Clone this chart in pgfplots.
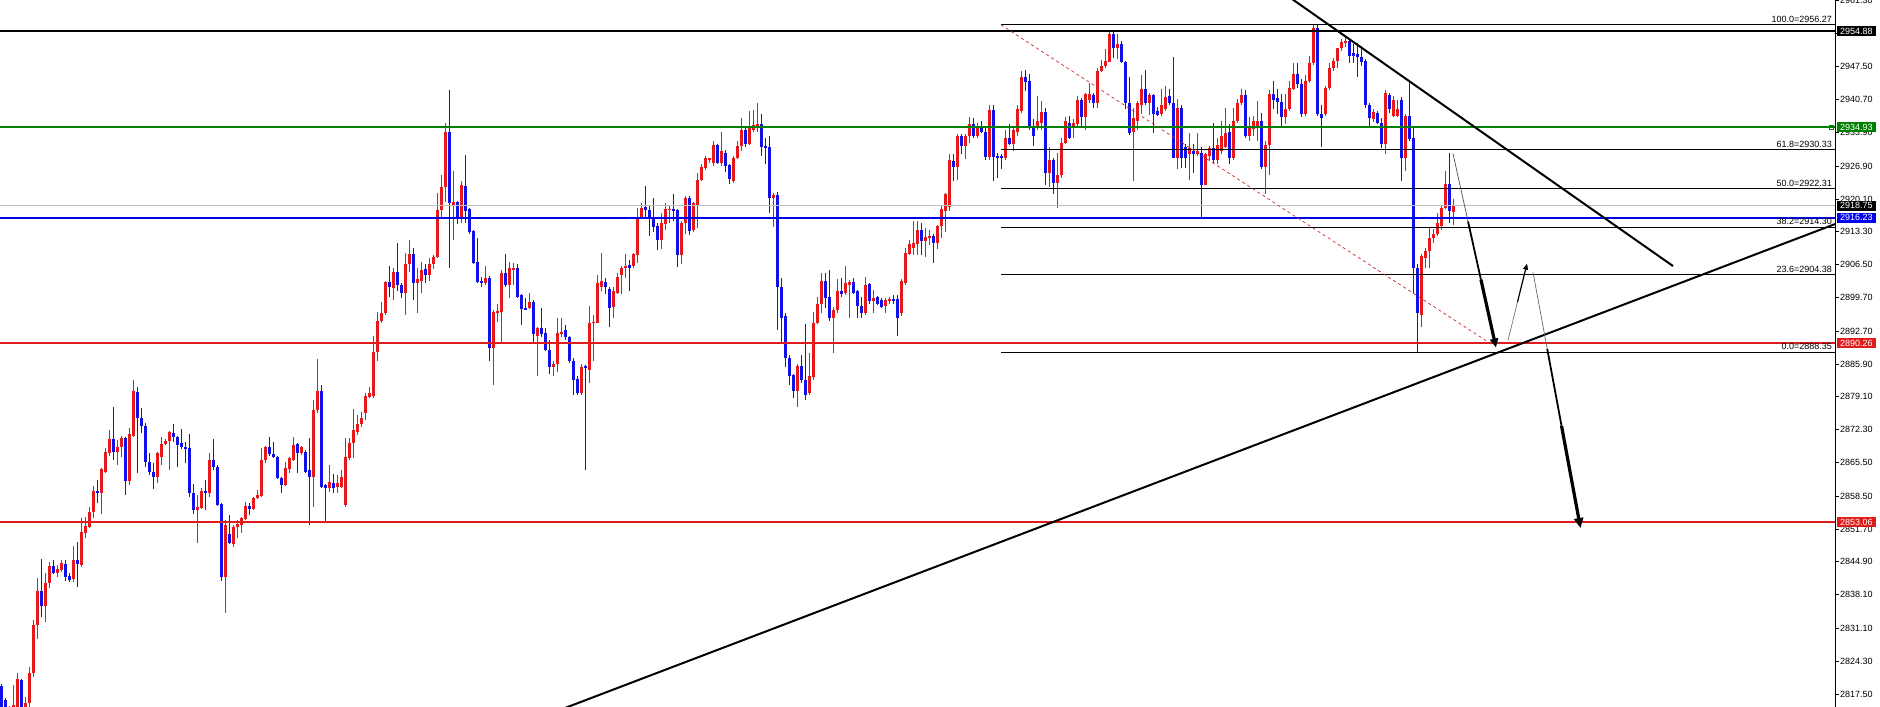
\documentclass[border=0pt]{standalone}
\usepackage{pgfplots}
\pgfplotsset{compat=1.18}
\usepackage{pgfplotstable}
\usepackage{fontspec}
\setmainfont{Liberation Sans}
\usetikzlibrary{arrows.meta}
\definecolor{bull}{RGB}{232,24,24}
\definecolor{bear}{RGB}{16,16,232}
\definecolor{lvlred}{RGB}{222,28,28}
\definecolor{lvlgreen}{RGB}{0,128,0}
\definecolor{lvlblue}{RGB}{0,0,240}
\definecolor{bidgray}{RGB}{192,192,192}
\definecolor{fibred}{RGB}{200,40,40}
\newcommand{\tf}{\fontsize{9}{10}\selectfont}

\pgfplotstableread{
t o h l c
0 2819.2 2819.6 2813.2 2813.8
1 2816.2 2816.6 2813.8 2814.2
2 2813.8 2815.0 2813.0 2814.5
3 2814.5 2819.4 2813.8 2815.2
4 2814.3 2821.8 2813.8 2820.6
5 2820.4 2820.6 2813.8 2814.5
6 2814.5 2816.8 2813.8 2815.6
7 2815.6 2823.1 2814.5 2821.8
8 2821.8 2832.8 2821.0 2831.8
9 2831.8 2841.5 2828.9 2838.8
10 2838.8 2845.4 2833.4 2835.7
11 2835.7 2842.6 2832.4 2840.5
12 2840.5 2844.8 2839.4 2844.0
13 2844.0 2845.2 2842.3 2842.6
14 2842.6 2844.2 2841.7 2843.4
15 2843.2 2845.2 2842.8 2844.6
16 2844.4 2845.2 2840.9 2841.7
17 2841.9 2842.6 2840.7 2841.1
18 2841.3 2848.1 2840.7 2845.2
19 2845.2 2848.9 2839.6 2844.4
20 2844.2 2853.9 2843.8 2851.0
21 2850.8 2854.1 2849.8 2852.3
22 2852.1 2856.2 2851.9 2855.2
23 2855.2 2860.6 2853.9 2859.5
24 2859.5 2861.8 2857.0 2859.1
25 2859.1 2864.3 2854.9 2864.1
26 2863.5 2868.4 2863.3 2867.6
27 2867.4 2872.2 2866.8 2870.3
28 2870.3 2876.9 2865.9 2867.6
29 2867.6 2870.1 2864.9 2868.6
30 2868.6 2870.9 2866.6 2870.5
31 2870.5 2870.7 2858.7 2861.6
32 2861.6 2872.6 2860.8 2871.3
33 2870.9 2882.5 2870.7 2880.2
34 2880.0 2881.1 2863.3 2874.8
35 2874.8 2876.7 2871.5 2873.0
36 2873.0 2873.6 2864.5 2865.5
37 2865.5 2867.4 2862.8 2863.5
38 2863.5 2865.3 2859.9 2862.4
39 2862.4 2867.6 2861.2 2867.4
40 2866.6 2870.7 2864.9 2869.3
41 2869.3 2870.3 2869.1 2869.9
42 2869.9 2872.0 2863.9 2871.7
43 2871.5 2873.4 2869.7 2870.7
44 2870.7 2870.9 2864.5 2869.1
45 2869.5 2872.4 2868.2 2868.6
46 2868.6 2869.7 2865.3 2868.2
47 2868.4 2871.3 2858.3 2859.1
48 2859.1 2861.0 2854.9 2855.6
49 2855.6 2858.7 2848.7 2856.2
50 2856.0 2860.1 2855.8 2859.5
51 2859.5 2861.8 2855.6 2859.1
52 2859.1 2867.4 2858.3 2865.9
53 2865.9 2870.3 2863.9 2864.5
54 2864.5 2864.9 2856.4 2856.6
55 2856.8 2857.0 2840.9 2841.7
56 2841.7 2853.5 2834.2 2852.5
57 2850.6 2854.5 2848.5 2848.7
58 2848.5 2852.5 2847.9 2852.1
59 2852.1 2853.5 2849.8 2852.7
60 2852.5 2854.1 2850.8 2853.9
61 2853.7 2857.2 2853.5 2856.4
62 2856.4 2857.0 2854.7 2855.8
63 2855.8 2858.3 2855.6 2858.1
64 2858.1 2859.7 2857.9 2858.7
65 2858.5 2868.4 2858.3 2866.1
66 2866.1 2869.0 2865.3 2868.6
67 2868.6 2870.7 2866.8 2867.2
68 2867.2 2869.7 2866.4 2866.6
69 2866.6 2866.8 2862.0 2862.2
70 2862.2 2862.4 2859.1 2860.8
71 2860.8 2865.5 2860.6 2864.3
72 2864.1 2866.6 2863.3 2866.4
73 2866.1 2870.7 2865.7 2869.1
74 2869.3 2869.5 2863.3 2867.4
75 2867.4 2869.0 2867.0 2868.6
76 2867.6 2868.0 2863.3 2863.5
77 2863.9 2870.5 2852.5 2862.4
78 2862.4 2878.4 2856.2 2876.3
79 2876.3 2886.9 2875.7 2880.4
80 2880.4 2881.5 2860.1 2860.3
81 2860.8 2861.0 2853.1 2860.1
82 2860.1 2864.9 2859.3 2861.4
83 2861.2 2863.2 2859.1 2860.1
84 2860.3 2862.8 2859.1 2861.2
85 2860.3 2863.9 2860.1 2862.4
86 2856.6 2870.5 2856.2 2866.6
87 2866.4 2870.5 2865.9 2869.5
88 2869.5 2876.5 2866.4 2872.2
89 2871.7 2875.3 2871.1 2873.4
90 2873.4 2875.9 2872.8 2874.8
91 2875.7 2879.8 2874.2 2879.2
92 2879.0 2881.1 2878.8 2879.8
93 2879.2 2891.8 2878.8 2888.3
94 2888.3 2896.6 2886.6 2894.9
95 2894.9 2898.7 2894.5 2896.4
96 2896.4 2903.2 2896.0 2902.8
97 2902.8 2906.3 2899.7 2901.8
98 2901.6 2905.7 2899.1 2904.9
99 2904.9 2910.9 2901.1 2902.2
100 2902.2 2902.6 2899.5 2900.7
101 2900.7 2909.0 2896.0 2906.7
102 2906.7 2911.7 2904.9 2908.6
103 2908.6 2910.0 2899.1 2902.6
104 2902.6 2905.7 2896.4 2903.6
105 2903.2 2907.1 2900.7 2905.3
106 2905.5 2906.7 2902.6 2904.3
107 2904.3 2907.8 2903.2 2906.7
108 2906.7 2908.4 2905.5 2908.0
109 2908.0 2921.4 2907.8 2917.9
110 2917.9 2925.0 2916.3 2922.5
111 2922.5 2935.9 2919.4 2933.9
112 2933.9 2942.6 2905.7 2919.2
113 2918.7 2925.8 2911.5 2919.4
114 2919.4 2919.6 2915.0 2916.3
115 2916.3 2923.9 2915.2 2922.9
116 2922.7 2929.3 2915.2 2917.7
117 2918.1 2918.3 2912.9 2913.2
118 2913.4 2913.6 2906.7 2906.9
119 2907.1 2912.1 2902.6 2902.8
120 2903.2 2904.0 2901.8 2902.6
121 2902.6 2906.3 2902.2 2903.8
122 2903.8 2904.2 2886.6 2889.3
123 2889.3 2897.0 2881.5 2896.6
124 2896.6 2898.4 2894.5 2896.8
125 2896.6 2905.3 2890.4 2904.7
126 2904.7 2908.8 2901.8 2902.2
127 2902.2 2907.1 2899.5 2905.7
128 2905.5 2906.9 2902.2 2905.7
129 2905.7 2906.7 2899.5 2899.7
130 2900.1 2900.5 2893.9 2897.2
131 2897.4 2899.5 2897.0 2897.2
132 2897.6 2900.7 2897.4 2898.7
133 2898.7 2899.1 2890.2 2892.2
134 2891.8 2893.5 2883.5 2893.3
135 2893.3 2897.6 2891.4 2892.2
136 2892.4 2893.3 2888.5 2888.7
137 2888.9 2890.8 2883.9 2885.2
138 2885.2 2886.6 2883.5 2886.0
139 2886.0 2895.5 2884.2 2892.4
140 2892.2 2895.5 2891.4 2892.6
141 2892.9 2893.9 2890.8 2891.4
142 2891.4 2891.6 2886.2 2886.6
143 2886.6 2887.1 2879.4 2882.5
144 2882.7 2883.5 2879.4 2879.8
145 2879.8 2886.0 2879.4 2885.2
146 2885.4 2885.6 2863.9 2885.0
147 2884.6 2898.0 2881.9 2894.3
148 2894.3 2896.0 2886.6 2894.7
149 2894.5 2904.4 2894.3 2902.6
150 2901.8 2909.0 2901.1 2903.0
151 2902.8 2903.8 2900.5 2901.8
152 2901.4 2901.8 2893.5 2897.6
153 2897.8 2901.8 2895.5 2901.1
154 2900.7 2904.7 2900.5 2904.0
155 2904.3 2906.3 2900.5 2905.9
156 2905.7 2908.8 2903.8 2906.3
157 2906.5 2907.4 2901.1 2905.9
158 2906.3 2909.0 2905.9 2908.8
159 2908.4 2918.3 2906.9 2916.3
160 2916.3 2919.2 2916.1 2918.3
161 2918.5 2922.7 2916.3 2917.9
162 2917.9 2918.7 2912.5 2916.1
163 2916.3 2920.4 2913.2 2914.2
164 2914.4 2915.2 2909.6 2911.7
165 2911.7 2917.1 2909.8 2915.2
166 2915.0 2919.2 2913.6 2918.1
167 2917.9 2918.7 2915.2 2918.1
168 2918.1 2921.2 2915.6 2917.7
169 2917.9 2918.1 2905.9 2908.4
170 2908.4 2915.6 2906.7 2915.2
171 2915.2 2920.8 2912.9 2920.4
172 2920.4 2920.8 2912.7 2913.4
173 2913.6 2919.4 2913.2 2919.2
174 2918.7 2925.4 2914.0 2924.1
175 2924.1 2927.4 2923.9 2926.8
176 2926.6 2929.1 2926.2 2928.7
177 2928.3 2928.7 2927.6 2928.5
178 2927.6 2932.2 2927.0 2931.2
179 2931.2 2931.4 2927.4 2927.6
180 2927.6 2933.9 2927.0 2930.1
181 2929.7 2930.3 2925.6 2927.0
182 2927.2 2927.4 2923.3 2924.3
183 2923.9 2929.1 2923.5 2928.5
184 2928.5 2932.2 2928.3 2931.0
185 2931.0 2936.8 2930.1 2934.3
186 2934.3 2934.9 2930.8 2931.6
187 2931.6 2938.4 2931.2 2934.9
188 2934.3 2938.6 2933.9 2935.5
189 2934.9 2939.9 2933.9 2935.7
190 2935.7 2937.8 2929.1 2930.8
191 2931.0 2932.8 2927.4 2930.6
192 2930.8 2933.2 2917.3 2920.4
193 2920.4 2921.4 2914.2 2921.0
194 2921.0 2921.6 2892.9 2901.8
195 2901.8 2903.8 2890.2 2895.5
196 2895.9 2896.4 2885.2 2887.1
197 2887.1 2887.7 2881.5 2883.5
198 2883.7 2883.9 2878.8 2880.4
199 2880.4 2886.0 2876.9 2885.4
200 2885.4 2887.7 2881.9 2882.5
201 2882.5 2894.1 2878.4 2879.4
202 2879.8 2888.1 2879.4 2883.5
203 2883.1 2896.6 2882.5 2894.3
204 2894.3 2899.7 2894.1 2898.4
205 2898.4 2904.7 2896.4 2903.2
206 2903.2 2904.7 2897.6 2899.5
207 2899.7 2905.3 2894.9 2895.5
208 2895.5 2897.8 2888.1 2897.0
209 2897.0 2903.6 2896.4 2901.1
210 2901.1 2903.8 2899.7 2900.5
211 2900.7 2906.3 2900.1 2902.6
212 2902.2 2903.4 2895.5 2902.8
213 2902.8 2903.8 2900.5 2900.7
214 2901.1 2901.3 2895.5 2898.0
215 2898.0 2899.7 2895.5 2896.4
216 2896.4 2904.0 2896.0 2902.2
217 2902.4 2902.6 2898.4 2898.9
218 2898.9 2901.3 2896.4 2899.5
219 2899.7 2899.9 2898.2 2898.4
220 2899.1 2899.5 2897.6 2897.8
221 2898.0 2899.5 2896.4 2899.1
222 2898.9 2899.7 2898.4 2899.3
223 2899.3 2900.1 2898.4 2898.9
224 2899.3 2900.1 2891.8 2895.5
225 2896.4 2903.6 2895.8 2903.2
226 2902.6 2910.0 2902.2 2909.0
227 2908.8 2911.5 2908.4 2910.7
228 2910.0 2915.6 2908.4 2910.9
229 2910.7 2915.6 2908.4 2913.6
230 2913.6 2915.2 2908.4 2911.3
231 2911.3 2914.0 2908.0 2912.3
232 2912.1 2913.6 2910.5 2912.5
233 2912.5 2912.9 2906.9 2910.9
234 2910.9 2914.8 2909.8 2914.4
235 2914.4 2918.7 2912.1 2918.1
236 2917.7 2921.4 2913.2 2921.2
237 2918.5 2929.5 2917.7 2928.1
238 2927.9 2929.5 2923.9 2926.8
239 2926.8 2933.6 2924.1 2933.2
240 2933.2 2933.6 2929.5 2931.0
241 2931.0 2933.6 2928.3 2933.2
242 2933.2 2937.0 2931.8 2935.7
243 2935.7 2936.8 2932.8 2933.2
244 2933.2 2935.9 2932.8 2934.9
245 2934.9 2936.3 2933.7 2933.9
246 2933.9 2935.1 2928.1 2928.9
247 2928.9 2939.5 2928.1 2938.6
248 2938.6 2939.5 2923.9 2928.9
249 2929.1 2929.7 2924.5 2928.7
250 2929.1 2929.5 2926.4 2928.7
251 2928.7 2934.3 2928.1 2932.8
252 2932.8 2935.7 2931.2 2931.6
253 2931.6 2935.1 2930.1 2934.3
254 2933.9 2939.5 2933.2 2938.8
255 2938.4 2946.7 2938.0 2945.3
256 2945.3 2946.9 2942.4 2944.4
257 2944.6 2946.1 2934.5 2935.1
258 2935.1 2936.6 2931.0 2933.2
259 2934.9 2941.5 2934.3 2936.3
260 2935.9 2940.5 2934.3 2938.2
261 2938.2 2939.0 2922.9 2925.4
262 2925.4 2930.8 2922.5 2928.1
263 2928.1 2928.5 2921.2 2923.5
264 2923.5 2929.7 2918.3 2925.0
265 2925.0 2932.8 2924.5 2931.8
266 2931.8 2937.0 2931.6 2936.3
267 2935.9 2937.4 2932.6 2932.8
268 2934.9 2936.6 2932.8 2935.9
269 2935.7 2941.5 2935.3 2940.7
270 2940.7 2941.1 2934.9 2937.0
271 2937.0 2942.1 2934.3 2941.9
272 2940.7 2944.2 2940.1 2941.9
273 2941.7 2942.1 2939.0 2940.1
274 2939.9 2947.3 2939.0 2946.7
275 2946.7 2949.0 2946.5 2947.7
276 2947.7 2951.1 2947.3 2948.8
277 2948.6 2955.0 2948.4 2954.4
278 2954.4 2955.0 2949.4 2951.3
279 2951.3 2954.4 2949.2 2952.3
280 2952.3 2952.9 2948.2 2948.6
281 2948.6 2948.8 2938.8 2939.9
282 2939.9 2945.3 2933.4 2933.7
283 2933.9 2939.0 2923.9 2936.8
284 2936.3 2940.5 2934.3 2939.9
285 2939.5 2945.7 2937.8 2943.0
286 2943.0 2946.9 2939.5 2940.1
287 2940.1 2942.1 2937.6 2941.7
288 2941.7 2941.9 2933.7 2937.8
289 2938.4 2939.2 2937.4 2937.6
290 2937.8 2943.0 2937.4 2939.5
291 2938.8 2943.6 2938.4 2941.3
292 2941.5 2943.0 2939.5 2939.9
293 2939.9 2949.6 2928.5 2928.7
294 2928.7 2940.9 2926.4 2939.0
295 2939.0 2939.5 2926.6 2928.5
296 2930.8 2931.6 2926.6 2928.5
297 2929.5 2933.7 2924.1 2930.6
298 2930.1 2931.4 2925.4 2929.5
299 2929.5 2933.7 2929.1 2930.1
300 2929.7 2930.9 2916.3 2923.1
301 2923.1 2929.7 2922.9 2929.5
302 2929.1 2931.0 2928.1 2930.6
303 2930.6 2935.9 2927.6 2928.1
304 2928.1 2932.8 2927.4 2931.2
305 2930.1 2936.3 2929.5 2933.2
306 2930.8 2939.0 2930.6 2933.7
307 2933.9 2935.7 2927.4 2928.7
308 2928.7 2939.0 2928.1 2936.3
309 2936.3 2940.9 2935.9 2939.9
310 2939.9 2942.8 2939.5 2941.7
311 2941.7 2942.6 2932.8 2933.2
312 2933.2 2937.0 2932.2 2935.1
313 2934.7 2937.4 2933.2 2936.3
314 2935.1 2940.5 2932.2 2936.3
315 2936.3 2938.0 2926.4 2926.8
316 2926.8 2932.2 2921.2 2931.2
317 2931.2 2942.6 2925.0 2941.9
318 2941.9 2944.6 2938.8 2940.7
319 2941.1 2943.0 2937.8 2940.3
320 2940.3 2941.9 2935.1 2937.0
321 2937.0 2941.9 2935.7 2938.8
322 2938.8 2944.6 2938.4 2943.2
323 2943.0 2948.2 2942.6 2946.1
324 2946.1 2948.2 2943.2 2944.0
325 2944.0 2945.0 2937.0 2937.8
326 2937.8 2945.7 2937.4 2944.6
327 2944.6 2949.8 2944.2 2948.2
328 2948.2 2956.2 2947.9 2955.6
329 2955.6 2956.2 2937.4 2937.8
330 2937.8 2939.5 2930.8 2936.8
331 2937.8 2943.6 2937.4 2943.2
332 2943.2 2948.2 2942.6 2947.3
333 2947.3 2949.4 2946.7 2948.8
334 2948.8 2951.5 2947.3 2951.3
335 2951.3 2953.3 2950.8 2952.7
336 2952.5 2953.7 2951.7 2952.9
337 2952.9 2953.3 2948.2 2949.8
338 2950.4 2952.3 2948.2 2949.8
339 2950.2 2952.5 2945.3 2949.6
340 2949.6 2951.9 2947.7 2948.4
341 2948.8 2949.2 2939.0 2939.5
342 2939.5 2939.9 2935.1 2936.8
343 2936.6 2938.8 2936.1 2938.2
344 2938.0 2938.4 2935.7 2935.9
345 2935.9 2936.8 2930.6 2931.6
346 2931.6 2942.6 2929.5 2942.1
347 2941.7 2942.1 2938.0 2938.8
348 2937.4 2941.5 2937.0 2940.7
349 2937.4 2940.7 2937.0 2938.8
350 2940.7 2941.3 2923.9 2928.5
351 2928.5 2937.8 2926.0 2937.4
352 2937.4 2944.6 2932.2 2932.6
353 2932.8 2934.9 2900.5 2905.7
354 2905.7 2906.7 2888.3 2896.4
355 2896.0 2908.8 2893.5 2908.2
356 2907.8 2910.0 2905.7 2909.4
357 2909.4 2914.0 2905.7 2912.1
358 2912.1 2913.8 2910.9 2912.9
359 2912.9 2917.1 2912.5 2915.2
360 2914.6 2918.7 2913.6 2918.3
361 2918.3 2926.0 2918.1 2923.3
362 2923.3 2929.7 2915.2 2917.7
363 2917.5 2920.0 2914.8 2918.7
}\ohlc

\begin{document}
\begin{tikzpicture}
\begin{axis}[
  at={(0,0)}, anchor=south west,
  scale only axis, width=1835pt, height=707pt,
  xmin=0, xmax=1835, ymin=2814.8, ymax=2961.35,
  axis x line=none, axis y line*=right,
  axis line style={black, line width=0.9pt},
  ytick={2961.30,2954.50,2947.50,2940.70,2933.90,2926.90,2920.10,2913.30,2906.50,2899.70,2892.70,2885.90,2879.10,2872.30,2865.50,2858.50,2851.70,2844.90,2838.10,2831.10,2824.30,2817.50},
  yticklabels={2961.30,2954.50,2947.50,2940.70,2933.90,2926.90,2920.10,2913.30,2906.50,2899.70,2892.70,2885.90,2879.10,2872.30,2865.50,2858.50,2851.70,2844.90,2838.10,2831.10,2824.30,2817.50},
  tick align=outside, major tick length=4pt,
  y tick style={black, line width=0.8pt},
  yticklabel style={font=\tf, anchor=west, inner sep=0pt, xshift=1pt},
  candle/.style={draw=none, mark=none, forget plot,
    error bars/.cd, y dir=both, y explicit, error mark=none},
]
% wicks
\addplot[candle, error bar style={draw=bull, line width=1pt}]
  table[x expr=4*\thisrow{t}+1,
        y expr={\thisrow{c}>=\thisrow{o} ? 0.5*(\thisrow{h}+\thisrow{l}) : nan},
        y error expr={0.5*(\thisrow{h}-\thisrow{l})}] {\ohlc};
\addplot[candle, error bar style={draw=bear, line width=1pt}]
  table[x expr=4*\thisrow{t}+1,
        y expr={\thisrow{c}<\thisrow{o} ? 0.5*(\thisrow{h}+\thisrow{l}) : nan},
        y error expr={0.5*(\thisrow{h}-\thisrow{l})}] {\ohlc};
% bodies
\addplot[candle, error bar style={draw=bull, line width=3pt}]
  table[x expr=4*\thisrow{t}+1,
        y expr={\thisrow{c}>=\thisrow{o} ? 0.5*(\thisrow{o}+\thisrow{c}) : nan},
        y error expr={max(0.5*abs(\thisrow{c}-\thisrow{o}),0.12)}] {\ohlc};
\addplot[candle, error bar style={draw=bear, line width=3pt}]
  table[x expr=4*\thisrow{t}+1,
        y expr={\thisrow{c}<\thisrow{o} ? 0.5*(\thisrow{o}+\thisrow{c}) : nan},
        y error expr={max(0.5*abs(\thisrow{c}-\thisrow{o}),0.12)}] {\ohlc};

% horizontal levels
\addplot[bidgray, line width=0.8pt] coordinates {(0,2918.75) (1835,2918.75)};
\addplot[black, line width=2.4pt] coordinates {(0,2954.88) (1835,2954.88)};
\addplot[lvlgreen, line width=2pt] coordinates {(0,2934.93) (1835,2934.93)};
\addplot[lvlblue, line width=2pt] coordinates {(0,2916.23) (1835,2916.23)};
\addplot[lvlred, line width=2pt] coordinates {(0,2890.26) (1835,2890.26)};
\addplot[lvlred, line width=2pt] coordinates {(0,2853.06) (1835,2853.06)};
\addplot[lvlgreen, only marks, mark=square, mark size=2pt, mark options={line width=0.8pt}] coordinates {(1831,2934.93)};

% fibonacci levels
\addplot[black, line width=0.8pt] coordinates {(1001,2956.27) (1835,2956.27)};
\addplot[black, line width=0.8pt] coordinates {(1001,2930.33) (1835,2930.33)};
\addplot[black, line width=0.8pt] coordinates {(1001,2922.31) (1835,2922.31)};
\addplot[black, line width=0.8pt] coordinates {(1001,2914.30) (1835,2914.30)};
\addplot[black, line width=0.8pt] coordinates {(1001,2904.38) (1835,2904.38)};
\addplot[black, line width=0.8pt] coordinates {(1001,2888.35) (1835,2888.35)};
\addplot[fibred, line width=0.7pt, dash pattern=on 3pt off 3pt] coordinates {(1001,2956.2) (1493,2889.8)};

\node[font=\tf, anchor=south east, inner sep=0pt, yshift=2pt] at (axis cs:1832,2956.27) {100.0=2956.27};
\node[font=\tf, anchor=south east, inner sep=0pt, yshift=2pt] at (axis cs:1832,2930.33) {61.8=2930.33};
\node[font=\tf, anchor=south east, inner sep=0pt, yshift=2pt] at (axis cs:1832,2922.31) {50.0=2922.31};
\node[font=\tf, anchor=south east, inner sep=0pt, yshift=2pt] at (axis cs:1832,2914.30) {38.2=2914.30};
\node[font=\tf, anchor=south east, inner sep=0pt, yshift=2pt] at (axis cs:1832,2904.38) {23.6=2904.38};
\node[font=\tf, anchor=south east, inner sep=0pt, yshift=2pt] at (axis cs:1832,2888.35) {0.0=2888.35};

% trend lines
\addplot[black, line width=2pt] coordinates {(560,2814.2) (1835,2914.9)};
\addplot[black, line width=2pt] coordinates {(1280,2963.3) (1673,2906.2)};

% arrows
\addplot[black!70, line width=0.7pt] coordinates {(1453,2929.5) (1468.05,2915.43)};
\addplot[black, line width=1.8pt] coordinates {(1468.05,2915.43) (1480.95,2903.37)};
\addplot[black, line width=3.2pt, -{Triangle[length=9pt,width=8pt]}] coordinates {(1480.95,2903.37) (1496,2889.3)};

\addplot[black!60, line width=0.6pt] coordinates {(1508,2890.8) (1517.5,2898.75)};
\addplot[black, line width=1.2pt, -{Triangle[length=6pt,width=5pt]}] coordinates {(1517.5,2898.75) (1527,2906.7)};

\addplot[black!60, line width=0.7pt] coordinates {(1533,2904.9) (1547.25,2889.0)};
\addplot[black, line width=1.8pt] coordinates {(1547.25,2889.0) (1561.5,2873.1)};
\addplot[black, line width=3.2pt, -{Triangle[length=10pt,width=9pt]}] coordinates {(1561.5,2873.1) (1580.5,2851.9)};

\coordinate (tA) at (axis cs:1835,2954.88);
\coordinate (tB) at (axis cs:1835,2934.93);
\coordinate (tC) at (axis cs:1835,2918.75);
\coordinate (tD) at (axis cs:1835,2916.23);
\coordinate (tE) at (axis cs:1835,2890.26);
\coordinate (tF) at (axis cs:1835,2853.06);
\end{axis}
\tikzset{tag/.style={anchor=west, xshift=1.5pt, text=white, font=\tf, inner xsep=3.5pt, inner ysep=0pt, minimum height=10pt}}
\node[tag, fill=black] at (tA) {2954.88};
\node[tag, fill=lvlgreen] at (tB) {2934.93};
\node[tag, fill=black] at (tC) {2918.75};
\node[tag, fill=lvlblue] at (tD) {2916.23};
\node[tag, fill=lvlred] at (tE) {2890.26};
\node[tag, fill=lvlred] at (tF) {2853.06};
\pgfresetboundingbox
\useasboundingbox (0,0) rectangle (1880pt,707pt);
\end{tikzpicture}
\end{document}
